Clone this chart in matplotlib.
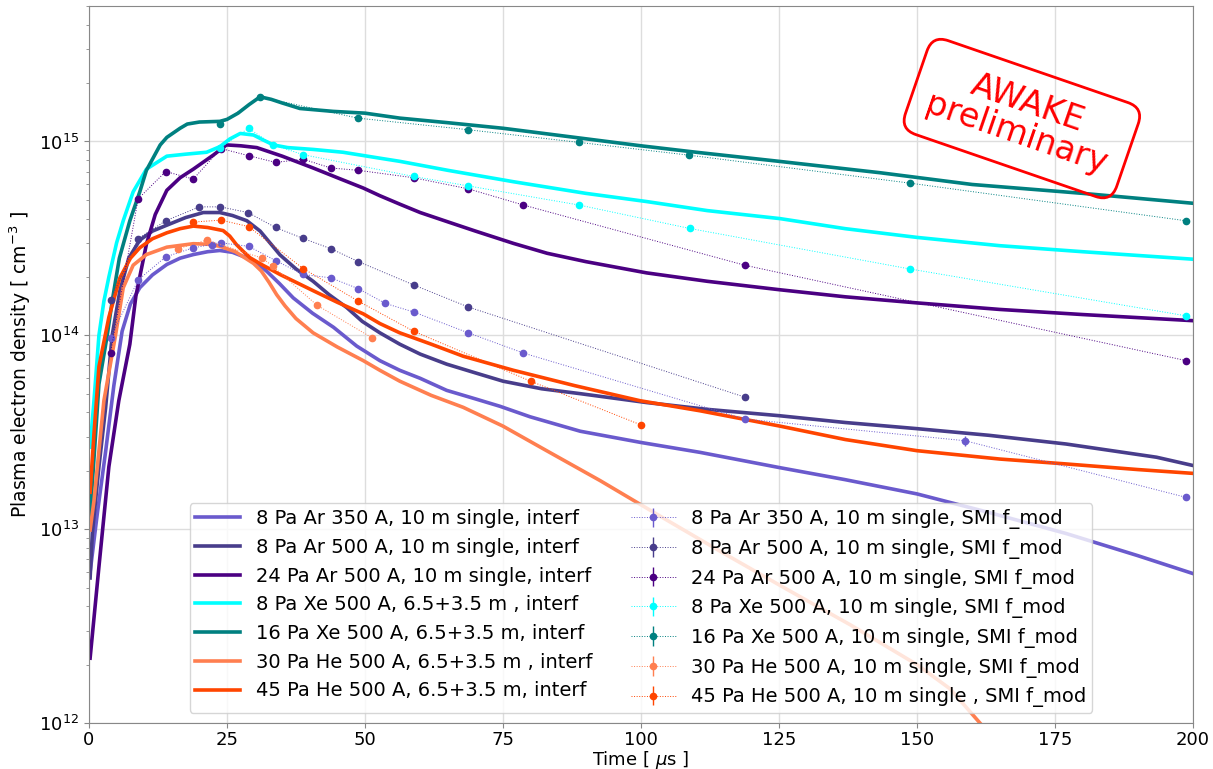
import matplotlib
matplotlib.use("Agg")
import numpy as np
import matplotlib.pyplot as plt

# --- interferometer curves (solid) ---
t_ar350 = [0.2, 1.5, 3.0, 4.5, 6.0, 7.5, 9.2, 11.5, 14.1, 16.5, 18.9, 21.5, 23.7, 26, 28.6, 30.5, 32.2, 34.5,
           37, 40.5, 44.3, 48.5, 52.7, 56.3, 60, 64.8, 70, 74.5, 79.9, 89, 100, 110.7, 125, 137, 150, 163, 177, 190, 200]
n_ar350 = [6e12, 1.2e13, 2.5e13, 5.5e13, 1.05e14, 1.45e14, 1.76e14, 2.05e14, 2.32e14, 2.5e14, 2.61e14, 2.7e14,
           2.74e14, 2.68e14, 2.51e14, 2.35e14, 2.14e14, 1.85e14, 1.56e14, 1.3e14, 1.1e14, 8.8e13, 7.4e13, 6.6e13,
           6e13, 5.2e13, 4.7e13, 4.3e13, 3.8e13, 3.2e13, 2.8e13, 2.49e13, 2.08e13, 1.8e13, 1.52e13, 1.22e13,
           9.5e12, 7.3e12, 5.9e12]

t_ar500 = [0.2, 0.6, 1.8, 3.0, 4.2, 5.6, 7.2, 9.2, 11.5, 14.1, 17.5, 20.7, 23.7, 26, 28.6, 31, 34.6, 37.5, 40.6,
           43.5, 46.7, 49.5, 52.7, 56.3, 60, 64.8, 70, 75, 82, 89, 101, 112, 125, 137, 150, 163, 177, 193.4, 200]
n_ar500 = [5.6e12, 9.5e12, 2.1e13, 4.2e13, 1.0e14, 1.7e14, 2.5e14, 3.1e14, 3.45e14, 3.7e14, 4.05e14, 4.3e14,
           4.3e14, 4.15e14, 3.9e14, 3.45e14, 2.6e14, 2.2e14, 1.9e14, 1.62e14, 1.39e14, 1.18e14, 1.03e14, 9.0e13,
           8.0e13, 7.1e13, 6.4e13, 5.8e13, 5.3e13, 5.0e13, 4.5e13, 4.15e13, 3.85e13, 3.55e13, 3.3e13, 3.05e13,
           2.75e13, 2.35e13, 2.13e13]

t_ar24 = [0.2, 1.8, 3.6, 5.4, 7.4, 8.5, 10.4, 12, 14.1, 16.5, 18.9, 22.5, 24.9, 27.5, 30.4, 35, 40.6, 45, 49.7,
          52.7, 56.3, 60, 65, 70, 76.9, 83, 90, 101, 112, 125, 137, 150, 165, 180, 200]
n_ar24 = [2.16e12, 6.4e12, 2.1e13, 4.6e13, 9e13, 1.6e14, 2.95e14, 4.2e14, 5.6e14, 6.5e14, 7.2e14, 8.5e14, 9.6e14,
          9.5e14, 9.3e14, 8.4e14, 7.3e14, 6.5e14, 5.75e14, 5.25e14, 4.75e14, 4.3e14, 3.85e14, 3.45e14, 2.98e14,
          2.65e14, 2.4e14, 2.1e14, 1.9e14, 1.72e14, 1.58e14, 1.47e14, 1.36e14, 1.28e14, 1.19e14]

t_xe8 = [0.2, 0.9, 1.8, 2.7, 3.6, 5, 6.2, 8, 10.4, 14.1, 17.5, 21.3, 23.7, 25.5, 27.4, 29.8, 31.5, 33.4, 36, 40.6,
         46, 52.7, 56.3, 65, 76.9, 90, 101, 112, 125.2, 137, 150, 165, 180, 200]
n_xe8 = [2.65e13, 4.6e13, 1.0e14, 1.5e14, 2.0e14, 3.0e14, 3.9e14, 5.5e14, 7.2e14, 8.4e14, 8.6e14, 8.8e14, 9.4e14,
         1.03e15, 1.1e15, 1.08e15, 1.02e15, 9.6e14, 9.3e14, 9.1e14, 8.8e14, 8.2e14, 7.9e14, 7.1e14, 6.2e14,
         5.4e14, 4.9e14, 4.4e14, 4.0e14, 3.55e14, 3.2e14, 2.9e14, 2.7e14, 2.47e14]

t_xe16 = [0.2, 1.8, 3.3, 4.2, 5.5, 7.4, 9.2, 10.4, 12.9, 14.1, 16.5, 17.8, 20, 23.7, 25, 27, 29, 31, 33, 35, 38.2,
          44.2, 50, 56.3, 65, 75, 88, 100, 110, 125, 143.3, 160, 180, 200]
n_xe16 = [1.16e13, 5.6e13, 1.0e14, 1.5e14, 2.5e14, 3.9e14, 5.5e14, 7.1e14, 9.6e14, 1.05e15, 1.17e15, 1.23e15,
          1.26e15, 1.27e15, 1.3e15, 1.4e15, 1.55e15, 1.7e15, 1.65e15, 1.58e15, 1.48e15, 1.43e15, 1.4e15, 1.32e15,
          1.25e15, 1.17e15, 1.05e15, 9.5e14, 8.8e14, 7.9e14, 6.9e14, 6.0e14, 5.4e14, 4.8e14]

t_he30 = [0.2, 0.9, 2.7, 4.8, 6.2, 8, 10.4, 14.1, 18.9, 21.5, 23.7, 26.5, 29.8, 31.2, 32.6, 34, 35.5, 37.5, 40.6,
          45, 49.7, 52.7, 56.3, 62, 67.8, 75, 82.9, 92.6, 105, 115, 126.4, 138, 150, 156, 161.4, 166]
n_he30 = [9.9e12, 1.4e13, 4.6e13, 1.0e14, 1.76e14, 2.3e14, 2.61e14, 2.85e14, 2.97e14, 2.95e14, 2.88e14, 2.7e14,
          2.35e14, 2.15e14, 1.88e14, 1.62e14, 1.42e14, 1.22e14, 1.03e14, 8.7e13, 7.4e13, 6.6e13, 5.8e13, 4.9e13,
          4.25e13, 3.4e13, 2.54e13, 1.78e13, 1.1e13, 7.5e12, 4.9e12, 3.2e12, 2.0e12, 1.5e12, 1.0e12, 7e11]

t_he45 = [0.2, 0.9, 1.8, 3.6, 5.6, 7.5, 9.2, 11.5, 14.1, 16.5, 18.9, 21.5, 24.3, 25.5, 26.7, 28, 29.2, 31.5, 34.6,
          40.6, 45, 49.7, 52.7, 56.3, 62, 67.8, 76.9, 88, 99.8, 110.7, 125.2, 137, 150, 165, 177, 190, 200]
n_he45 = [1.55e13, 3.1e13, 6.9e13, 1.24e14, 1.98e14, 2.5e14, 2.83e14, 3.15e14, 3.38e14, 3.55e14, 3.66e14, 3.6e14,
          3.47e14, 3.25e14, 2.94e14, 2.7e14, 2.51e14, 2.3e14, 2.06e14, 1.7e14, 1.48e14, 1.29e14, 1.15e14, 1.03e14,
          9.0e13, 7.8e13, 6.6e13, 5.5e13, 4.6e13, 4.08e13, 3.4e13, 2.9e13, 2.54e13, 2.3e13, 2.17e13, 2.03e13,
          1.94e13]

# --- SMI f_mod points ---
ts_ar350 = [3.9, 8.9, 13.9, 18.9, 22.3, 23.9, 28.9, 33.8, 38.8, 43.8, 48.8, 53.7, 58.8, 68.7, 78.7, 118.8, 158.7, 198.7]
ns_ar350 = [9.7e13, 1.93e14, 2.54e14, 2.83e14, 2.94e14, 3.0e14, 2.88e14, 2.43e14, 2.06e14, 1.98e14, 1.74e14,
            1.46e14, 1.32e14, 1.03e14, 8.1e13, 3.7e13, 2.86e13, 1.46e13]
es_ar350 = [2e12, 4e12, 5e12, 6e12, 6e12, 6e12, 6e12, 5e12, 4e12, 4e12, 3e12, 3e12, 3e12, 2e12, 2e12, 1e12,
            1.7e12, 4e11]

ts_ar500 = [3.9, 8.9, 13.9, 20.0, 23.8, 28.8, 33.8, 38.8, 43.8, 48.8, 58.8, 68.7, 118.8]
ns_ar500 = [1.52e14, 3.15e14, 3.9e14, 4.6e14, 4.6e14, 4.3e14, 3.6e14, 3.16e14, 2.8e14, 2.4e14, 1.82e14, 1.4e14,
            4.8e13]

ts_ar24 = [3.9, 8.9, 13.9, 18.9, 23.9, 28.9, 33.8, 38.8, 43.8, 48.8, 58.8, 68.7, 78.7, 118.8, 198.8]
ns_ar24 = [8.1e13, 5.06e14, 7.0e14, 6.4e14, 9.2e14, 8.45e14, 7.8e14, 8.1e14, 7.3e14, 7.1e14, 6.5e14, 5.7e14,
           4.7e14, 2.3e14, 7.4e13]

ts_xe8 = [23.8, 28.9, 33.4, 38.8, 58.8, 68.7, 88.8, 108.8, 148.7, 198.8]
ns_xe8 = [9.3e14, 1.17e15, 9.6e14, 8.55e14, 6.6e14, 5.9e14, 4.7e14, 3.56e14, 2.2e14, 1.26e14]

ts_xe16 = [23.8, 31.0, 48.7, 68.7, 88.7, 108.7, 148.7, 198.7]
ns_xe16 = [1.23e15, 1.7e15, 1.32e15, 1.15e15, 9.9e14, 8.5e14, 6.1e14, 3.9e14]

ts_he30 = [16.2, 21.3, 31.4, 33.3, 41.3, 51.3]
ns_he30 = [2.8e14, 3.1e14, 2.5e14, 2.27e14, 1.43e14, 9.7e13]

ts_he45 = [18.9, 23.9, 28.9, 38.8, 48.8, 58.8, 80.0, 100.0]
ns_he45 = [3.84e14, 3.93e14, 3.64e14, 2.21e14, 1.5e14, 1.05e14, 5.8e13, 3.45e13]

colors = ["slateblue", "darkslateblue", "indigo", "cyan", "teal", "coral", "orangered"]

interf = [
    (t_ar350, n_ar350, "8 Pa Ar 350 A, 10 m single, interf"),
    (t_ar500, n_ar500, "8 Pa Ar 500 A, 10 m single, interf"),
    (t_ar24, n_ar24, "24 Pa Ar 500 A, 10 m single, interf"),
    (t_xe8, n_xe8, "8 Pa Xe 500 A, 6.5+3.5 m , interf"),
    (t_xe16, n_xe16, "16 Pa Xe 500 A, 6.5+3.5 m, interf"),
    (t_he30, n_he30, "30 Pa He 500 A, 6.5+3.5 m , interf"),
    (t_he45, n_he45, "45 Pa He 500 A, 6.5+3.5 m, interf"),
]
smi = [
    (ts_ar350, ns_ar350, es_ar350, "8 Pa Ar 350 A, 10 m single, SMI f_mod"),
    (ts_ar500, ns_ar500, None, "8 Pa Ar 500 A, 10 m single, SMI f_mod"),
    (ts_ar24, ns_ar24, None, "24 Pa Ar 500 A, 10 m single, SMI f_mod"),
    (ts_xe8, ns_xe8, None, "8 Pa Xe 500 A, 10 m single, SMI f_mod"),
    (ts_xe16, ns_xe16, None, "16 Pa Xe 500 A, 10 m single, SMI f_mod"),
    (ts_he30, ns_he30, None, "30 Pa He 500 A, 10 m single, SMI f_mod"),
    (ts_he45, ns_he45, None, "45 Pa He 500 A, 10 m single , SMI f_mod"),
]

plt.rcParams["font.size"] = 13
fig = plt.figure(figsize=(12.13, 7.69), dpi=100)
ax = fig.add_axes([89 / 1213, 1 - 723 / 769, (1193 - 89) / 1213, (723 - 6) / 769])

handles = []
for (t, n, lab), c in zip(interf, colors):
    h, = ax.plot(t, n, color=c, lw=2.6, label=lab, zorder=2)
    handles.append(h)

for (t, n, e, lab), c in zip(smi, colors):
    if e is None:
        e = [0.02 * v for v in n]
    h = ax.errorbar(t, n, yerr=e, color=c, marker="o", ms=4.5, ls=":", lw=0.7,
                    elinewidth=1.0, label=lab, zorder=3)
    handles.append(h)

ax.set_yscale("log")
ax.set_xlim(0, 200)
ax.set_ylim(1e12, 5e15)
ax.set_xticks(np.arange(0, 201, 25))
ax.grid(True, which="major", color="#dddddd", lw=1)
ax.set_axisbelow(True)
for s in ax.spines.values():
    s.set_color("#888888")
ax.tick_params(which="both", color="#888888")
ax.tick_params(axis="x", pad=2)
ax.set_xlabel("Time [ $\\mu$s ]", fontsize=13, labelpad=0)
ax.set_ylabel("Plasma electron density [ cm$^{-3}$ ]", fontsize=13.5)

ax.legend(handles=handles, ncol=2, loc="lower center", fontsize=14, handlelength=2.3,
          columnspacing=2.0, borderpad=0.3)

ax.text(0.845, 0.843, "AWAKE\npreliminary", transform=ax.transAxes, rotation=-19,
        ha="center", va="center", color="red", fontsize=24, linespacing=1.0,
        bbox=dict(boxstyle="round,pad=0.5", ec="red", fc="none", lw=2))

plt.savefig("out.png", dpi=100)
